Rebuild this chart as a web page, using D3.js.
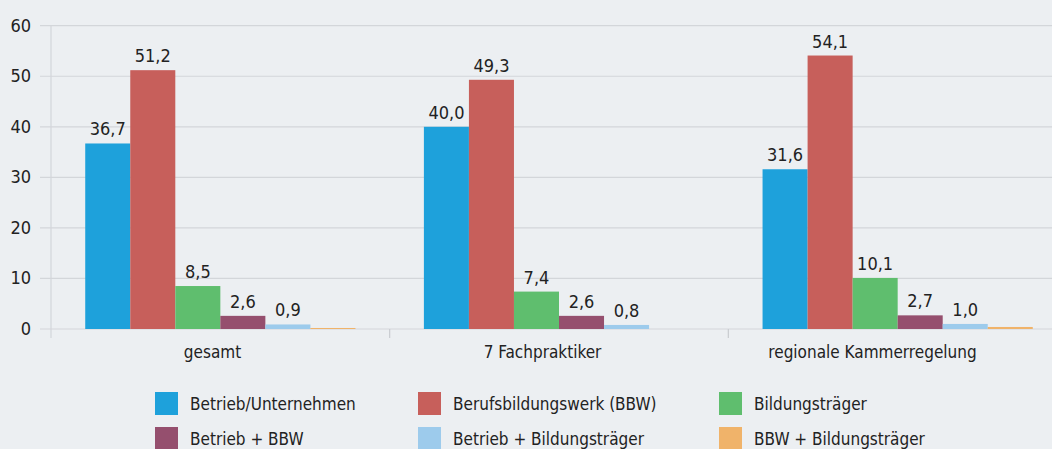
<!DOCTYPE html>
<html>
<head>
<meta charset="utf-8">
<script src="https://cdn.jsdelivr.net/npm/d3@7"></script>
<style>
  html, body { margin: 0; padding: 0; background: #eceff2; }
  svg { display: block; }
  text { font-family: "DejaVu Sans Condensed", "Roboto", sans-serif; fill: #222; }
</style>
</head>
<body>
<svg id="chart" width="1052" height="449"></svg>
<script>
// Categories (x groups)
const categories = ["gesamt", "7 Fachpraktiker", "regionale Kammerregelung"];
// Series names (legend order)
const seriesNames = ["Betrieb/Unternehmen", "Berufsbildungswerk (BBW)", "Bildungsträger",
                     "Betrieb + BBW", "Betrieb + Bildungsträger", "BBW + Bildungsträger"];
// Values per series, one entry per category
const betriebUnternehmen = [36.7, 40.0, 31.6];
const berufsbildungswerk = [51.2, 49.3, 54.1];
const bildungstraeger    = [8.5, 7.4, 10.1];
const betriebBBW         = [2.6, 2.6, 2.7];
const betriebBildung     = [0.9, 0.8, 1.0];
const bbwBildung         = [0.2, 0.0, 0.4];
// Which series carry a value label
const showLabel = [true, true, true, true, true, false];
const yTicks = [0, 10, 20, 30, 40, 50, 60];
const colors = ["#1ea1db", "#c75f5b", "#5fbe6e", "#954f6e", "#9dcbec", "#f0b36a"];

const seriesValues = [betriebUnternehmen, berufsbildungswerk, bildungstraeger,
                      betriebBBW, betriebBildung, bbwBildung];

const svg = d3.select("#chart");
const x0 = 51, x1 = 1067, yTop = 25.7, yBase = 329;

const x = d3.scaleBand().domain(categories).range([x0, x1]).paddingInner(0).paddingOuter(0);
const xs = d3.scaleBand().domain(d3.range(seriesNames.length))
  .range([0, x.bandwidth()]).paddingOuter(0.76).paddingInner(0);
// Category label positions
const xLabel = d3.scaleBand().domain(categories).range([47.5, 1037.5]);
const y = d3.scaleLinear().domain([0, 60]).range([yBase, yTop]);

// Gridlines and y tick labels
const yAxis = svg.append("g");
yAxis.selectAll("line").data(yTicks).join("line")
  .attr("x1", 40).attr("x2", 1052)
  .attr("y1", d => y(d)).attr("y2", d => y(d))
  .attr("stroke", "#d3d6da").attr("stroke-width", 1.2);
yAxis.selectAll("text").data(yTicks).join("text")
  .attr("x", 31).attr("y", d => y(d) + 6)
  .attr("text-anchor", "end")
  .style("font-size", "18px")
  .text(d => d);

// Vertical axis line
svg.append("line")
  .attr("x1", x0).attr("x2", x0).attr("y1", yTop).attr("y2", 338)
  .attr("stroke", "#d3d6da").attr("stroke-width", 1.2);

// Group separator ticks
svg.selectAll("line.sep").data(categories.slice(1)).join("line")
  .attr("class", "sep")
  .attr("x1", d => x(d)).attr("x2", d => x(d))
  .attr("y1", yBase).attr("y2", 338)
  .attr("stroke", "#c9ccd0").attr("stroke-width", 1.2);

// Bars
const groups = svg.append("g").selectAll("g").data(categories).join("g")
  .attr("transform", d => `translate(${x(d)},0)`);

groups.each(function(cat, ci) {
  const g = d3.select(this);
  seriesValues.forEach((vals, si) => {
    const v = vals[ci];
    g.append("rect")
      .attr("x", xs(si)).attr("width", xs.bandwidth())
      .attr("y", y(v)).attr("height", yBase - y(v))
      .attr("fill", colors[si]);
    if (showLabel[si]) {
      g.append("text")
        .attr("x", xs(si) + xs.bandwidth() / 2)
        .attr("y", y(v) - 8)
        .attr("text-anchor", "middle")
        .style("font-size", "18px")
        .text(d3.format(".1f")(v).replace(".", ","));
    }
  });
});

// Category labels
svg.selectAll("text.cat").data(categories).join("text")
  .attr("class", "cat")
  .attr("x", d => xLabel(d) + xLabel.bandwidth() / 2)
  .attr("y", 358)
  .attr("text-anchor", "middle")
  .style("font-size", "17px")
  .text(d => d);

// Legend
const legendX = [155, 418, 719];
const legendY = [392, 427];
const legend = svg.append("g").selectAll("g").data(seriesNames).join("g")
  .attr("transform", (d, i) => `translate(${legendX[i % 3]},${legendY[Math.floor(i / 3)]})`);
legend.append("rect").attr("width", 23).attr("height", 23).attr("fill", (d, i) => colors[i]);
legend.append("text").attr("x", 35).attr("y", 18)
  .style("font-size", "17px").text(d => d);
</script>
</body>
</html>
